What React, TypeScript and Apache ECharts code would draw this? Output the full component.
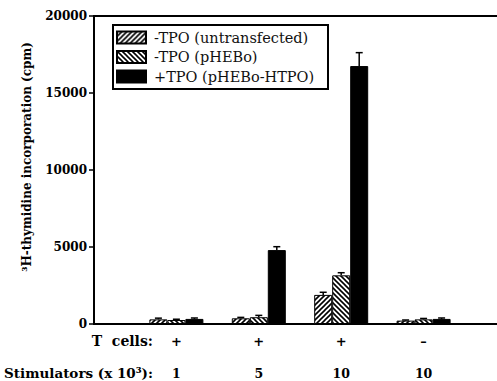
import React, { useEffect, useRef } from "react";
import * as echarts from "echarts";

const tCells = ["+", "+", "+", "–"];
const stimulators = ["1", "5", "10", "10"];
const seriesNames = ["-TPO (untransfected)", "-TPO (pHEBo)", "+TPO (pHEBo-HTPO)"];
const untransfected = [300, 370, 1890, 220];
const pHEBo = [260, 440, 3160, 300];
const pHEBoHTPO = [330, 4800, 16750, 330];
const errUntransfected = [80, 60, 170, 40];
const errPHEBo = [50, 120, 170, 60];
const errPHEBoHTPO = [60, 220, 870, 60];
const yTicks = [0, 5000, 10000, 15000, 20000];

const SERIF = "'DejaVu Serif', serif";

function makeHatch(dir: number) {
  const s = 5;
  const c = document.createElement("canvas");
  c.width = s;
  c.height = s;
  const ctx = c.getContext("2d")!;
  ctx.fillStyle = "#fff";
  ctx.fillRect(0, 0, s, s);
  ctx.strokeStyle = "#000";
  ctx.lineWidth = 1.6;
  const seg = (x1: number, y1: number, x2: number, y2: number) => {
    ctx.beginPath();
    ctx.moveTo(x1, y1);
    ctx.lineTo(x2, y2);
    ctx.stroke();
  };
  if (dir > 0) {
    seg(0, s, s, 0);
    seg(-1, 1, 1, -1);
    seg(s - 1, s + 1, s + 1, s - 1);
  } else {
    seg(0, 0, s, s);
    seg(-1, s - 1, 1, s + 1);
    seg(s - 1, -1, s + 1, 1);
  }
  return c;
}

export default function App() {
  const ref = useRef<HTMLDivElement>(null);
  useEffect(() => {
    if (!ref.current) return;
    const chart = echarts.init(ref.current, null, { renderer: "svg" });
    const BW = 18;
    const values = [untransfected, pHEBo, pHEBoHTPO];
    const errs = [errUntransfected, errPHEBo, errPHEBoHTPO];
    const colors: any[] = [
      { image: makeHatch(1), repeat: "repeat" },
      { image: makeHatch(-1), repeat: "repeat" },
      "#000",
    ];
    const cats = ["", ...stimulators, ""];
    const barSeries = values.map((arr, si) => ({
      name: seriesNames[si],
      type: "bar",
      barWidth: BW,
      barGap: "0%",
      data: arr.map((v, i) => [i + 1, v]),
      itemStyle: { color: colors[si], borderColor: "#000", borderWidth: 1 },
      silent: true,
    }));
    const errSeries = values.map((arr, si) => ({
      type: "custom",
      silent: true,
      data: arr.map((v, i) => [i + 1, v, errs[si][i]]),
      encode: { x: 0, y: 1 },
      z: 5,
      renderItem: (params: any, api: any) => {
        const x = api.value(0);
        const v = api.value(1);
        const e = api.value(2);
        const base = api.coord([x, v]);
        const top = api.coord([x, v + e]);
        const cx = base[0] + (si - 1) * BW;
        return {
          type: "group",
          children: [
            { type: "line", shape: { x1: cx, y1: base[1], x2: cx, y2: top[1] }, style: { stroke: "#000", lineWidth: 1.5 } },
            { type: "line", shape: { x1: cx - 3.5, y1: top[1], x2: cx + 3.5, y2: top[1] }, style: { stroke: "#000", lineWidth: 1.5 } },
          ],
        };
      },
    }));
    chart.setOption({
      animation: false,
      backgroundColor: "#fff",
      grid: {
        left: 94,
        width: 412,
        top: 16,
        bottom: 57,
        show: true,
        borderColor: "#000",
        borderWidth: 2,
        containLabel: false,
        outerBoundsMode: "none",
      },
      legend: {
        data: seriesNames,
        orient: "vertical",
        left: 113,
        top: 25,
        itemWidth: 29,
        itemHeight: 12,
        itemGap: 4.5,
        padding: [5, 6, 5, 3],
        borderColor: "#000",
        borderWidth: 2,
        icon: "rect",
        selectedMode: false,
        textStyle: { fontFamily: SERIF, fontSize: 14.5, color: "#111", lineHeight: 14, padding: [0, 0, 0, 3], width: 168 },
      },
      xAxis: {
        type: "category",
        data: cats,
        boundaryGap: false,
        axisLine: { lineStyle: { color: "#000", width: 2 } },
        axisTick: { show: false },
        axisLabel: {
          interval: 0,
          margin: 1,
          formatter: (_v: string, i: number) => (i >= 1 && i <= 4 ? `{a|${tCells[i - 1]}}\n{b|${stimulators[i - 1]}}` : ""),
          rich: {
            a: { fontFamily: SERIF, fontWeight: "bold", fontSize: 13, lineHeight: 32, color: "#000" },
            b: { fontFamily: SERIF, fontWeight: "bold", fontSize: 12.5, lineHeight: 32, color: "#000" },
          },
        },
        splitLine: { show: false },
      },
      yAxis: {
        type: "value",
        min: yTicks[0],
        max: yTicks[yTicks.length - 1],
        interval: 5000,
        axisLine: { show: true, lineStyle: { color: "#000", width: 2 } },
        axisTick: { show: true, length: 5, lineStyle: { color: "#000", width: 1.5 } },
        axisLabel: { margin: 7, fontFamily: SERIF, fontWeight: "bold", fontSize: 12, color: "#000", formatter: (v: number) => String(v) },
        splitLine: { show: false },
      },
      graphic: [
        {
          type: "text",
          x: 27,
          y: 157,
          rotation: Math.PI / 2,
          style: {
            text: "³H-thymidine incorporation (cpm)",
            fontFamily: SERIF,
            fontWeight: "bold",
            fontSize: 12,
            fill: "#000",
            textAlign: "center",
            textVerticalAlign: "middle",
          },
        },
        {
          type: "text",
          x: 153,
          y: 341,
          style: { text: "T  cells:", fontFamily: SERIF, fontWeight: "bold", fontSize: 14, fill: "#000", textAlign: "right", textVerticalAlign: "middle" },
        },
        {
          type: "text",
          x: 153,
          y: 373,
          style: { text: "Stimulators (x 10³):", fontFamily: SERIF, fontWeight: "bold", fontSize: 13.5, fill: "#000", textAlign: "right", textVerticalAlign: "middle" },
        },
      ],
      series: [...barSeries, ...errSeries],
    });
    return () => chart.dispose();
  }, []);
  return <div ref={ref} style={{ width: 497, height: 381, position: "absolute", left: 0, top: 0 }} />;
}
